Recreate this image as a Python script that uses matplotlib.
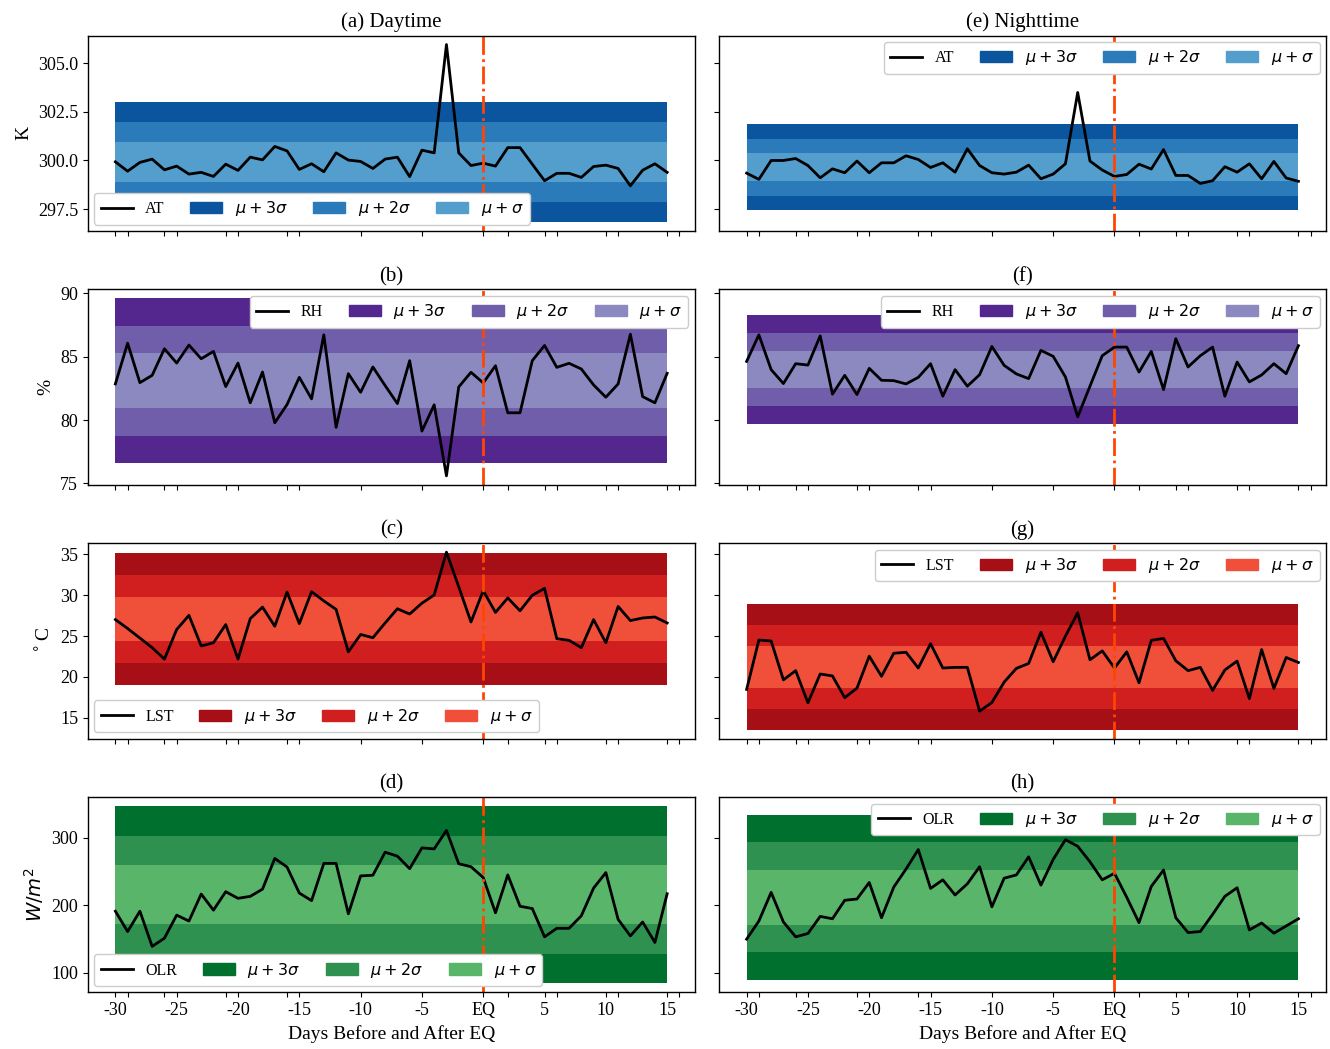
import numpy as np
import matplotlib
matplotlib.use("Agg")
import matplotlib.pyplot as plt
from matplotlib.lines import Line2D
from matplotlib.patches import Patch

plt.rcParams['font.family'] = ['Liberation Serif', 'DejaVu Serif']
plt.rcParams['mathtext.fontset'] = 'dejavusans'

days = np.arange(-30, 16)

at_day = [299.93, 299.45, 299.9, 300.07, 299.52, 299.71, 299.3, 299.39, 299.18, 299.81,
          299.49, 300.17, 300.03, 300.72, 300.49, 299.54, 299.83, 299.42, 300.39, 300.02,
          299.95, 299.59, 300.07, 300.17, 299.17, 300.53, 300.39, 305.95, 300.39, 299.74,
          299.86, 299.71, 300.66, 300.66, 299.81, 298.96, 299.34, 299.34, 299.13, 299.69,
          299.76, 299.59, 298.7, 299.5, 299.83, 299.39]
at_night = [299.35, 299.03, 300.0, 300.0, 300.1, 299.74, 299.11, 299.57, 299.37, 299.97,
            299.37, 299.88, 299.88, 300.24, 300.05, 299.64, 299.88, 299.4, 300.6, 299.74,
            299.37, 299.3, 299.4, 299.76, 299.06, 299.3, 299.83, 303.49, 299.97, 299.51,
            299.18, 299.28, 299.81, 299.56, 300.56, 299.23, 299.23, 298.82, 298.96, 299.68,
            299.4, 299.83, 299.06, 299.95, 299.1, 298.93]
rh_day = [82.85, 86.07, 82.95, 83.53, 85.63, 84.5, 85.92, 84.84, 85.42, 82.64,
          84.5, 81.36, 83.79, 79.78, 81.22, 83.37, 81.67, 86.73, 79.42, 83.66,
          82.19, 84.19, 82.72, 81.3, 84.69, 79.13, 81.2, 75.59, 82.61, 83.77,
          82.93, 84.29, 80.57, 80.57, 84.69, 85.89, 84.16, 84.48, 84.03, 82.77,
          81.8, 82.85, 86.78, 81.85, 81.36, 83.69]
rh_night = [84.63, 86.73, 83.98, 82.88, 84.45, 84.34, 86.65, 82.04, 83.53, 82.01,
            84.08, 83.14, 83.11, 82.85, 83.37, 84.45, 81.88, 83.98, 82.67, 83.58,
            85.81, 84.32, 83.64, 83.27, 85.5, 85.03, 83.4, 80.25, 82.67, 85.08,
            85.76, 85.76, 83.79, 85.42, 82.4, 86.42, 84.19, 85.08, 85.76, 81.88,
            84.58, 83.01, 83.56, 84.45, 83.66, 85.87]
lst_day = [27.02, 25.93, 24.76, 23.59, 22.18, 25.81, 27.54, 23.79, 24.19, 26.41,
           22.18, 27.14, 28.55, 26.21, 30.4, 26.53, 30.44, 29.31, 28.27, 23.07,
           25.2, 24.8, 26.61, 28.35, 27.7, 29.03, 30.04, 35.28, 31.05, 26.73,
           30.56, 27.9, 29.68, 28.1, 30.0, 30.85, 24.68, 24.48, 23.59, 27.02,
           24.19, 28.63, 26.9, 27.22, 27.34, 26.61]
lst_night = [18.47, 24.52, 24.4, 19.64, 20.77, 16.82, 20.36, 20.12, 17.46, 18.63,
             22.54, 20.08, 22.9, 23.02, 21.09, 24.07, 21.09, 21.17, 21.17, 15.81,
             16.86, 19.36, 21.05, 21.65, 25.48, 21.86, 25.0, 27.86, 22.1, 23.19,
             21.09, 23.07, 19.28, 24.48, 24.72, 21.98, 20.77, 21.17, 18.35, 20.85,
             21.94, 17.34, 23.35, 18.59, 22.38, 21.77]
olr_day = [191.2, 161.1, 191.2, 139.2, 151.3, 185.4, 176.6, 216.5, 192.7, 220.0,
           210.2, 213.1, 223.8, 269.1, 256.4, 218.0, 206.8, 261.8, 261.8, 187.3,
           243.3, 244.3, 278.3, 272.5, 254.0, 284.7, 283.2, 310.5, 261.3, 256.9,
           240.9, 188.8, 244.8, 198.5, 195.1, 153.3, 165.9, 165.9, 184.4, 225.3,
           248.2, 179.1, 154.7, 175.2, 145.0, 217.0]
olr_night = [149.9, 176.6, 219.0, 175.2, 153.3, 158.2, 183.5, 180.0, 207.3, 209.2,
             233.6, 181.5, 226.8, 253.5, 282.2, 224.8, 237.5, 215.1, 231.6, 256.9,
             197.6, 239.9, 244.8, 271.5, 229.7, 267.6, 296.8, 287.1, 264.2, 237.5,
             247.2, 211.7, 174.2, 227.7, 252.0, 181.5, 159.6, 161.1, 186.4, 213.1,
             225.8, 163.5, 173.7, 158.7, 169.3, 180.0]

# band statistics (mean, sigma)
mu_day = [299.93, 83.1, 27.1, 215.5]
sd_day = [1.03, 2.17, 2.7, 43.7]
mu_night = [299.66, 84.0, 21.25, 211.8]
sd_night = [0.73, 1.44, 2.57, 40.7]

var_names = ['AT', 'RH', 'LST', 'OLR']
ylabels = ['K', '%', r'$^\circ$C', r'$W/m^2$']
titles_day = ['(a) Daytime', '(b)', '(c)', '(d)']
titles_night = ['(e) Nighttime', '(f)', '(g)', '(h)']
band_labels = [r'$\mu + 3\sigma$', r'$\mu + 2\sigma$', r'$\mu + \sigma$']

major_ticks = [-30, -25, -20, -15, -10, -5, 0, 5, 10, 15]
major_labels = ['-30', '-25', '-20', '-15', '-10', '-5', 'EQ', '5', '10', '15']
minor_ticks = [-29, -26, -21, -16, 2, 6, 11, 16]

yticks = [[297.5, 300.0, 302.5, 305.0], [75, 80, 85, 90], [15, 20, 25, 30, 35], [100, 200, 300]]
yfmt = ['{:.1f}', '{:.0f}', '{:.0f}', '{:.0f}']

palettes = [
    ['#0b559f', '#2b7bba', '#539ecd'],
    ['#54278f', '#705eaa', '#8c89c0'],
    ['#a50f15', '#d11f20', '#f05039'],
    ['#00702e', '#2e914f', '#58b56a'],
]

legend_day = ['lower left', 'upper right', 'lower left', 'lower left']
legend_night = ['upper right', 'upper right', 'upper right', 'upper right']

data_day = [at_day, rh_day, lst_day, olr_day]
data_night = [at_night, rh_night, lst_night, olr_night]

fig, axes = plt.subplots(4, 2, figsize=(13.3, 10.49), dpi=100, sharex=True, sharey='row')
fig.subplots_adjust(left=0.066, right=0.997, top=0.966, bottom=0.054, wspace=0.04, hspace=0.30)

for r in range(4):
    for c in range(2):
        ax = axes[r, c]
        vals = data_day[r] if c == 0 else data_night[r]
        mu = mu_day[r] if c == 0 else mu_night[r]
        sd = sd_day[r] if c == 0 else sd_night[r]
        cols = palettes[r]
        for k, col in zip([3, 2, 1], cols):
            ax.fill_between(days, mu - k * sd, mu + k * sd, color=col, linewidth=0)
        ax.plot(days, vals, color='black', linewidth=2)
        ax.axvline(0, color='#ff4500', linestyle='-.', linewidth=2)
        title = titles_day[r] if c == 0 else titles_night[r]
        ax.set_title(title, fontsize=15)
        handles = [Line2D([0], [0], color='black', lw=2)] + [Patch(color=col) for col in cols]
        labels = [var_names[r]] + band_labels
        ax.legend(handles, labels, ncol=4, loc=legend_day[r] if c == 0 else legend_night[r],
                  fontsize=11.5, handlelength=2.0, columnspacing=1.6, borderaxespad=0.4,
                  framealpha=1.0)
        ax.set_xticks(major_ticks)
        ax.set_xticks(minor_ticks, minor=True)
        ax.tick_params(axis='x', which='minor', length=3.5, width=0.8)
        ax.tick_params(axis='both', which='major', labelsize=13)
        ax.set_yticks(yticks[r])
        if c == 0:
            ax.set_yticklabels([yfmt[r].format(v) for v in yticks[r]])
            ax.set_ylabel(ylabels[r], fontsize=14)
        if r == 3:
            ax.set_xticklabels(major_labels)
            ax.set_xlabel('Days Before and After EQ', fontsize=14)
        for s in ax.spines.values():
            s.set_linewidth(1.0)

fig.savefig('out.png', dpi=100)
